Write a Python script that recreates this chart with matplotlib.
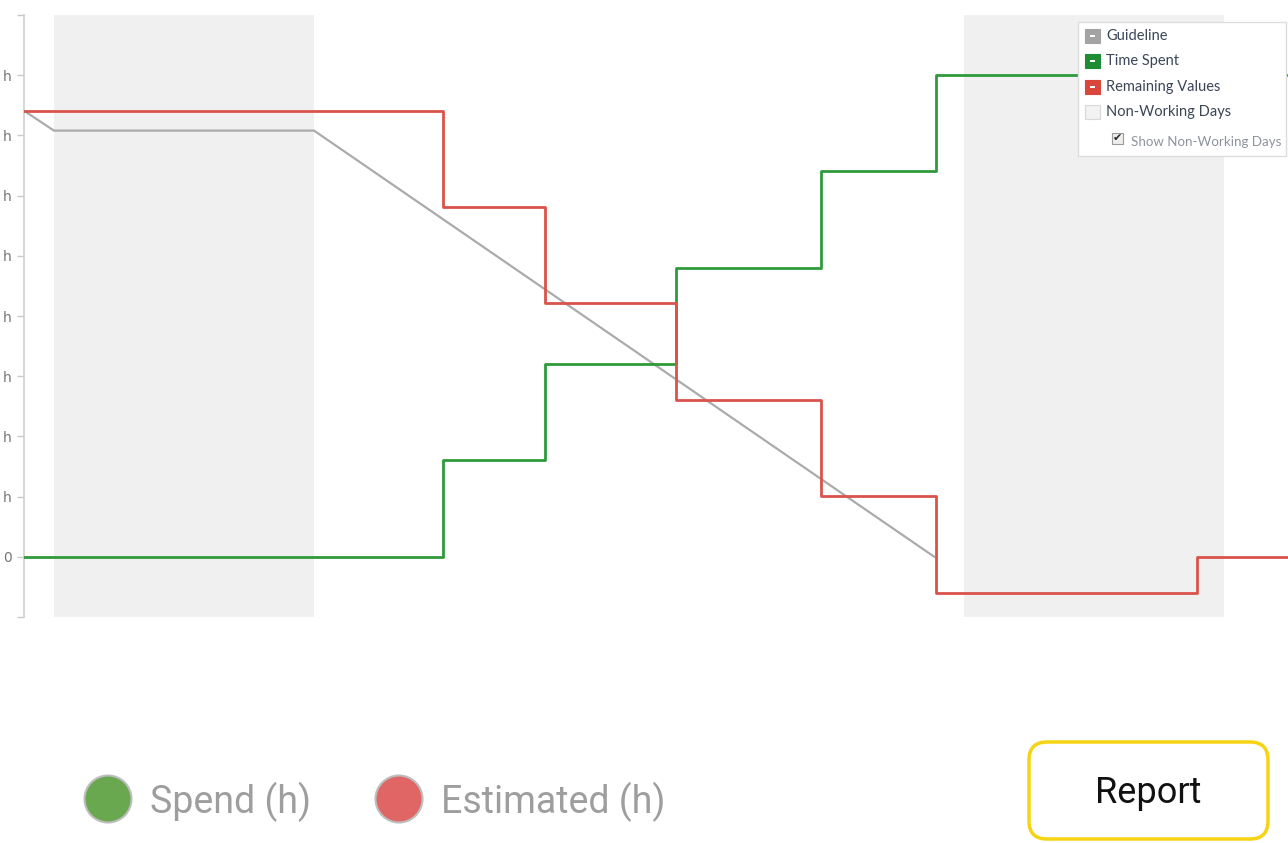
import matplotlib
matplotlib.use("Agg")
import matplotlib.pyplot as plt
from matplotlib.patches import Rectangle, Circle, FancyBboxPatch

# ── data (x in days, y in hours) ──────────────────────────────────────────────
guide_x = [-0.23, 0.0, 2.0, 6.77]
guide_y = [7.41, 7.08, 7.08, 0.0]

spent_x = [-0.23, 2.99, 3.78, 4.78, 5.90, 6.78, 9.49]
spent_y = [0.0, 1.61, 3.21, 4.80, 6.41, 8.00, 8.00]

remain_x = [-0.23, 2.99, 3.78, 4.78, 5.90, 6.78, 8.79, 9.49]
remain_y = [7.41, 5.81, 4.22, 2.61, 1.01, -0.60, 0.0, 0.0]

non_working = [(0, 2), (7, 9)]

y_ticks = [-1, 0, 1, 2, 3, 4, 5, 6, 7, 8, 9]
y_tick_labels = ['', '0', 'h', 'h', 'h', 'h', 'h', 'h', 'h', 'h', '']

legend_items = ['Guideline', 'Time Spent', 'Remaining Values', 'Non-Working Days']
legend_colors = ['#a3a3a3', '#1e8c32', '#d9473c', '#f2f2f2']

GREEN = '#2f9a3c'
RED = '#d9534a'
GRAY = '#ababab'
SHADE = '#f0f0f0'

W, H = 1288, 843
fig = plt.figure(figsize=(W / 100, H / 100), dpi=100)

# ── burndown axes ─────────────────────────────────────────────────────────────
left, top, bottom = 24, 15, 617
ax = fig.add_axes([left / W, 1 - bottom / H, 1 - left / W, (bottom - top) / H])
ax.set_xlim(-0.23, 9.49)
ax.set_ylim(-1.0, 9.0)

for a, b in non_working:
    ax.axvspan(a, b, color=SHADE, lw=0, zorder=0)

ax.plot(guide_x, guide_y, color=GRAY, lw=1.6, zorder=2)
ax.step(spent_x, spent_y, where='post', color=GREEN, lw=2.0, zorder=3)
ax.step(remain_x, remain_y, where='post', color=RED, lw=2.0, zorder=3)

for s in ['top', 'right', 'bottom']:
    ax.spines[s].set_visible(False)
ax.spines['left'].set_color('#d0d0d0')
ax.spines['left'].set_linewidth(1.2)
ax.set_xticks([])
ax.set_yticks(y_ticks)
ax.set_yticklabels(y_tick_labels)
ax.tick_params(axis='y', colors='#c8c8c8', labelcolor='#777777', length=5,
               width=1, labelsize=10, pad=4)

# ── overlay in pixel coordinates for UI pieces ────────────────────────────────
ov = fig.add_axes([0, 0, 1, 1], facecolor='none')
ov.set_xlim(0, W)
ov.set_ylim(H, 0)
ov.axis('off')

# legend box
ov.add_patch(Rectangle((1078, 22), 208, 134, facecolor='white',
                       edgecolor='#dcdcdc', lw=1.0, zorder=5))
row_y = [36, 61, 87, 112]
for yy, name, col in zip(row_y, legend_items, legend_colors):
    ov.add_patch(Rectangle((1085, yy - 7), 15, 14, facecolor=col,
                           edgecolor='#d8d8d8' if col == '#f2f2f2' else col,
                           lw=0.8, zorder=6))
    if col != '#f2f2f2':
        ov.add_patch(Rectangle((1090, yy - 1), 5, 2, facecolor='white',
                               lw=0, zorder=7))
    ov.text(1106, yy, name, fontsize=10.5, color='#3b4656',
            family='Lato', va='center', ha='left', zorder=7)
ov.add_patch(Rectangle((1112, 133), 11, 11, facecolor='#eeeeee',
                       edgecolor='#9a9a9a', lw=0.8, zorder=6))
ov.text(1117.5, 138.5, '\u2714', fontsize=8, color='#222222',
        family='DejaVu Sans', ha='center', va='center', zorder=7)
ov.text(1131, 142, 'Show Non-Working Days', fontsize=9.6, color='#8d939c',
        family='Lato', va='center', ha='left', zorder=7)

# bottom legend
ov.add_patch(Circle((108, 799), 23.5, facecolor='#69a84f',
                    edgecolor='#bdbdbd', lw=1.5))
ov.text(150, 802, 'Spend (h)', fontsize=27, color='#9e9e9e',
        family='Roboto', va='center', ha='left')
ov.add_patch(Circle((399, 799), 23.5, facecolor='#e06666',
                    edgecolor='#bdbdbd', lw=1.5))
ov.text(441, 802, 'Estimated (h)', fontsize=27, color='#9e9e9e',
        family='Roboto', va='center', ha='left')

# report button
ov.add_patch(FancyBboxPatch((1029, 742), 239, 97,
                            boxstyle='round,pad=0,rounding_size=18',
                            facecolor='white', edgecolor='#f7d411', lw=2.5))
ov.text(1148.5, 793, 'Report', fontsize=26, color='#111111',
        family='Roboto', va='center', ha='center')

plt.savefig('out.png', dpi=100)
